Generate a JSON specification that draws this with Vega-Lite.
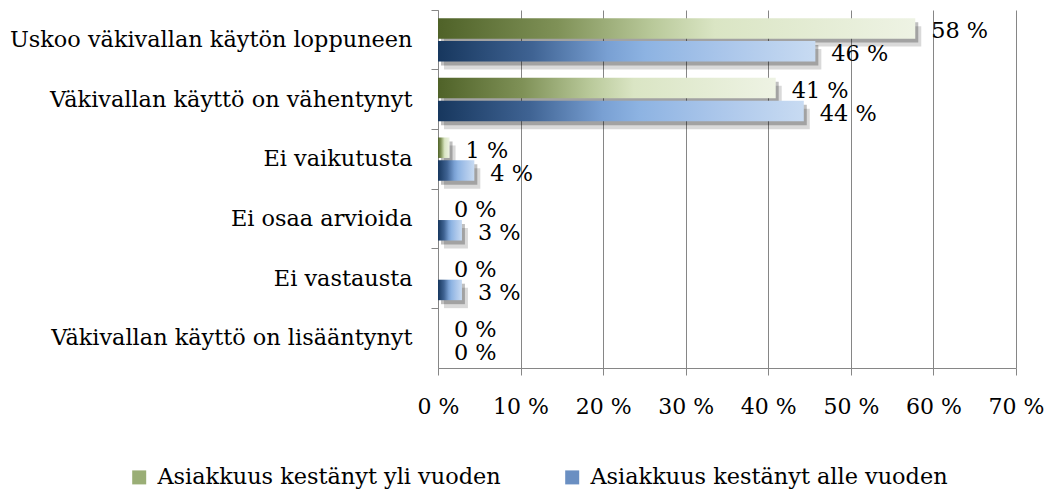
{
  "$schema": "https://vega.github.io/schema/vega-lite/v6.json",
  "width": 578,
  "height": 358,
  "autosize": {"type": "none"},
  "padding": {"left": 438, "top": 10, "right": 35, "bottom": 122},
  "background": "white",
  "config": {"font": "DejaVu Serif", "view": {"stroke": null}},
  "data": {
    "values": [
      {"category": "Uskoo väkivallan käytön loppuneen", "series": "Asiakkuus kestänyt yli vuoden", "value": 57.8, "lab": "58 %"},
      {"category": "Uskoo väkivallan käytön loppuneen", "series": "Asiakkuus kestänyt alle vuoden", "value": 45.7, "lab": "46 %"},
      {"category": "Väkivallan käyttö on vähentynyt", "series": "Asiakkuus kestänyt yli vuoden", "value": 40.9, "lab": "41 %"},
      {"category": "Väkivallan käyttö on vähentynyt", "series": "Asiakkuus kestänyt alle vuoden", "value": 44.3, "lab": "44 %"},
      {"category": "Ei vaikutusta", "series": "Asiakkuus kestänyt yli vuoden", "value": 1.4, "lab": "1 %"},
      {"category": "Ei vaikutusta", "series": "Asiakkuus kestänyt alle vuoden", "value": 4.4, "lab": "4 %"},
      {"category": "Ei osaa arvioida", "series": "Asiakkuus kestänyt yli vuoden", "value": 0, "lab": "0 %"},
      {"category": "Ei osaa arvioida", "series": "Asiakkuus kestänyt alle vuoden", "value": 2.9, "lab": "3 %"},
      {"category": "Ei vastausta", "series": "Asiakkuus kestänyt yli vuoden", "value": 0, "lab": "0 %"},
      {"category": "Ei vastausta", "series": "Asiakkuus kestänyt alle vuoden", "value": 2.9, "lab": "3 %"},
      {"category": "Väkivallan käyttö on lisääntynyt", "series": "Asiakkuus kestänyt yli vuoden", "value": 0, "lab": "0 %"},
      {"category": "Väkivallan käyttö on lisääntynyt", "series": "Asiakkuus kestänyt alle vuoden", "value": 0, "lab": "0 %"}
    ]
  },
  "encoding": {
    "y": {
      "field": "category",
      "type": "nominal",
      "sort": ["Uskoo väkivallan käytön loppuneen", "Väkivallan käyttö on vähentynyt", "Ei vaikutusta", "Ei osaa arvioida", "Ei vastausta", "Väkivallan käyttö on lisääntynyt"],
      "scale": {"paddingInner": 0, "paddingOuter": 0},
      "axis": {
        "title": null,
        "bandPosition": 0,
        "tickSize": 7,
        "tickColor": "#868686",
        "domainColor": "#868686",
        "labelPadding": 19,
        "labelFontSize": 22.4,
        "labelColor": "black",
        "labelLimit": 600
      }
    },
    "x": {
      "field": "value",
      "type": "quantitative",
      "scale": {"domain": [0, 70], "nice": false},
      "axis": {
        "title": null,
        "values": [0, 10, 20, 30, 40, 50, 60, 70],
        "grid": true,
        "gridColor": "#868686",
        "tickColor": "#868686",
        "domainColor": "#868686",
        "tickSize": 7,
        "labelExpr": "datum.value + ' %'",
        "labelFontSize": 22,
        "labelPadding": 21,
        "labelOverlap": false,
        "labelFlush": false,
        "labelBound": false,
        "labelColor": "black"
      }
    }
  },
  "resolve": {"scale": {"yOffset": "independent"}, "axis": {}, "legend": {}},
  "layer": [
    {
      "mark": {"type": "bar", "fill": "#000000", "opacity": 0.15, "xOffset": 6},
      "encoding": {
        "yOffset": {
          "field": "series", "type": "nominal",
          "sort": ["Asiakkuus kestänyt yli vuoden", "Asiakkuus kestänyt alle vuoden"],
          "scale": {"paddingInner": 0.105, "paddingOuter": 0.356, "align": 0.99}
        }
      }
    },
    {
      "mark": {"type": "bar", "fill": "#000000", "opacity": 0.25, "xOffset": 3},
      "encoding": {
        "yOffset": {
          "field": "series", "type": "nominal",
          "sort": ["Asiakkuus kestänyt yli vuoden", "Asiakkuus kestänyt alle vuoden"],
          "scale": {"paddingInner": 0.105, "paddingOuter": 0.356, "align": 0.745}
        }
      }
    },
    {
      "mark": {"type": "bar"},
      "encoding": {
        "yOffset": {
          "field": "series", "type": "nominal",
          "sort": ["Asiakkuus kestänyt yli vuoden", "Asiakkuus kestänyt alle vuoden"],
          "scale": {"paddingInner": 0.105, "paddingOuter": 0.356}
        },
        "fill": {
          "field": "series",
          "type": "nominal",
          "scale": {
            "domain": ["Asiakkuus kestänyt yli vuoden", "Asiakkuus kestänyt alle vuoden"],
            "range": ["#9aae76", "#6a8fc2"]
          },
          "condition": [
            {"test": "datum.series === 'Asiakkuus kestänyt yli vuoden'", "value": {"gradient": "linear", "x1": 0, "y1": 0, "x2": 1, "y2": 0, "stops": [{"offset": 0, "color": "#4f6228"}, {"offset": 0.25, "color": "#7f9157"}, {"offset": 0.45, "color": "#b9c99a"}, {"offset": 0.58, "color": "#dae5c4"}, {"offset": 1, "color": "#eef3e4"}]}},
            {"test": "datum.series === 'Asiakkuus kestänyt alle vuoden'", "value": {"gradient": "linear", "x1": 0, "y1": 0, "x2": 1, "y2": 0, "stops": [{"offset": 0, "color": "#17375e"}, {"offset": 0.25, "color": "#3f6393"}, {"offset": 0.45, "color": "#79a0d3"}, {"offset": 0.55, "color": "#8db3e2"}, {"offset": 0.75, "color": "#a9c5ea"}, {"offset": 1, "color": "#c8dbf2"}]}}
          ],
          "legend": {
            "title": null,
            "orient": "none",
            "legendX": -310,
            "legendY": 456,
            "direction": "horizontal",
            "symbolType": "square",
            "symbolSize": 196,
            "symbolStrokeWidth": 0,
            "labelFontSize": 22.4,
            "labelColor": "black",
            "columnPadding": 60,
            "labelOffset": 7,
            "labelLimit": 600,
            "padding": 0
          }
        }
      }
    },
    {
      "mark": {"type": "text", "align": "left", "baseline": "middle", "dx": 16, "dy": 3, "fontSize": 22.4, "color": "black"},
      "encoding": {
        "yOffset": {
          "field": "series", "type": "nominal",
          "sort": ["Asiakkuus kestänyt yli vuoden", "Asiakkuus kestänyt alle vuoden"],
          "scale": {"type": "point", "padding": 0.803}
        },
        "text": {"field": "lab"}
      }
    }
  ]
}
